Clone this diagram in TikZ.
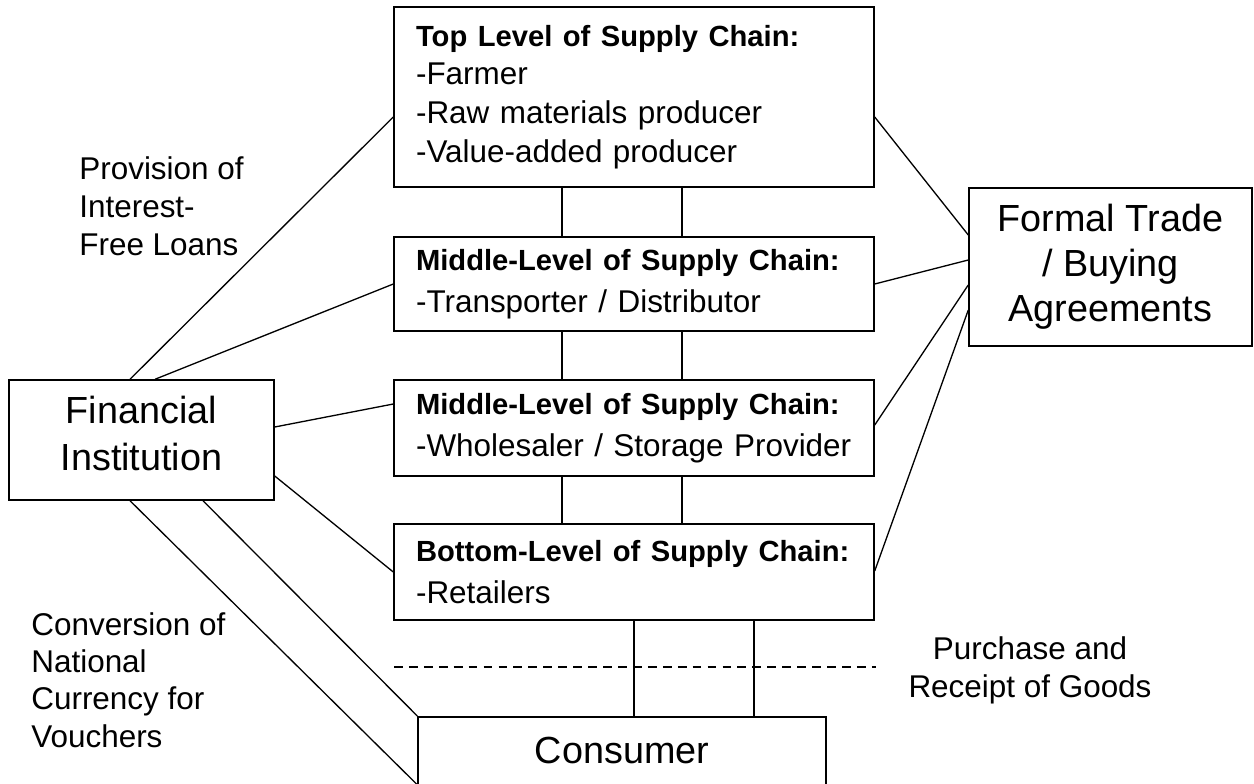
\documentclass[tikz,border=0pt]{standalone}
\usepackage{fontspec}
\setmainfont{Liberation Sans}
\usepackage{tikz}
\usetikzlibrary{positioning}
\newcommand{\levelhead}[1]{{\fontsize{16.6}{20}\selectfont\bfseries #1}}
\tikzstyle{level} = [rectangle, draw=black, line width=0.85pt, text width=8.72cm, inner xsep=0.44cm, inner ysep=0pt, minimum width=9.6cm, align=left, font=\fontsize{17.9}{24}\selectfont]
\tikzstyle{party} = [rectangle, draw=black, line width=0.85pt, inner sep=0pt, align=center, font=\fontsize{21.5}{25.6}\selectfont]
\tikzstyle{note} = [inner sep=0pt, align=left, font=\fontsize{17.9}{21.6}\selectfont]
\tikzstyle{link} = [line width=0.75pt]

\begin{document}
\begin{tikzpicture}[x=0.02cm, y=-0.02cm]
    \useasboundingbox (0,0) rectangle (1254,784);
    % Nodes
    \node (top) [level, minimum height=3.6cm, font=\fontsize{17.9}{22}\selectfont] at (634,97) {\levelhead{Top Level of Supply Chain:}\\-Farmer\\-Raw materials producer\\-Value-added producer};
    \node (mid1) [level, minimum height=1.88cm] at (634,284) {\levelhead{Middle-Level of Supply Chain:}\\-Transporter / Distributor};
    \node (mid2) [level, minimum height=1.92cm] at (634,428) {\levelhead{Middle-Level of Supply Chain:}\\-Wholesaler / Storage Provider};
    \node (bot) [level, minimum height=1.92cm] at (634,572) {\levelhead{Bottom-Level of Supply Chain:}\\-Retailers};
    \node (trade) [party, minimum width=5.66cm, minimum height=3.16cm] at (1110.5,267) {Formal Trade\\/ Buying\\Agreements};
    \node (fin) [party, minimum width=5.3cm, minimum height=2.4cm, text depth=8pt, font=\fontsize{21.5}{26.7}\selectfont] at (141.5,440) {Financial\\Institution};
    \node (cons) [party, anchor=north, minimum width=8.16cm, minimum height=2cm, text height=16pt, text depth=19.5pt] at (622,716) {Consumer};
    \node (loans) [note, anchor=north west] at (79,156) {Provision of\\Interest-\\Free Loans};
    \node (vouchers) [note, anchor=north west, font=\fontsize{17.9}{21.3}\selectfont] at (31,612) {Conversion of\\National\\Currency for\\Vouchers};
    \node (goods) [note, align=center, anchor=north] at (1030,636) {Purchase and\\Receipt of Goods};
    \coordinate (va) at (562,0);
    \coordinate (vb) at (682,0);
    \coordinate (vc) at (634,0);
    \coordinate (vd) at (754,0);
    \coordinate (dl) at (394,667);
    \coordinate (dr) at (876,667);
    % Links down the chain
    \draw [link] (va |- top.south) -- (va |- mid1.north);
    \draw [link] (vb |- top.south) -- (vb |- mid1.north);
    \draw [link] (va |- mid1.south) -- (va |- mid2.north);
    \draw [link] (vb |- mid1.south) -- (vb |- mid2.north);
    \draw [link] (va |- mid2.south) -- (va |- bot.north);
    \draw [link] (vb |- mid2.south) -- (vb |- bot.north);
    \draw [link] (vc |- bot.south) -- (vc |- cons.north);
    \draw [link] (vd |- bot.south) -- (vd |- cons.north);
    \draw [link, dash pattern=on 5pt off 3.5pt] (dl) -- (dr);
    % Financial institution
    \draw [link] ([xshift=-0.23cm]fin.north) -- ([yshift=-0.4cm]top.west);
    \draw [link] ([xshift=0.27cm]fin.north) -- (mid1.west);
    \draw [link] ([yshift=0.26cm]fin.east) -- ([yshift=0.48cm]mid2.west);
    \draw [link] ([yshift=-0.72cm]fin.east) -- (bot.west);
    \draw [link] ([xshift=1.23cm]fin.south) -- (cons.north west);
    \draw [link] ([xshift=-0.23cm]fin.south) -- ([yshift=-0.36cm]cons.west);
    % Trade agreements
    \draw [link] ([yshift=-0.4cm]top.east) -- ([yshift=0.64cm]trade.west);
    \draw [link] (mid1.east) -- ([yshift=0.14cm]trade.west);
    \draw [link] ([yshift=0.06cm]mid2.east) -- ([yshift=-0.36cm]trade.west);
    \draw [link] ([yshift=0.02cm]bot.east) -- ([yshift=-0.86cm]trade.west);
\end{tikzpicture}
\end{document}
